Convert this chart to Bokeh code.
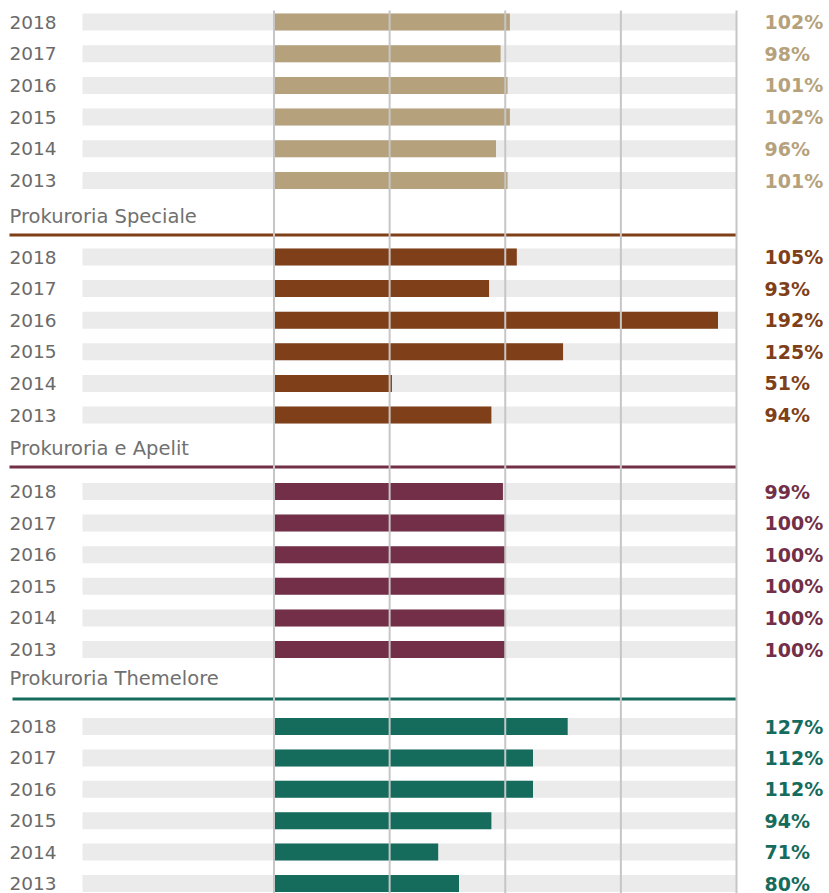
from bokeh.plotting import figure
from bokeh.models import Range1d, ColumnDataSource
from bokeh.core.properties import value
from bokeh.embed import file_html
from bokeh.resources import INLINE

# ---- data ----
years = ["2018", "2017", "2016", "2015", "2014", "2013"]
group_names = ["", "Prokuroria Speciale", "Prokuroria e Apelit", "Prokuroria Themelore"]
values_top = [102, 98, 101, 102, 96, 101]
values_speciale = [105, 93, 192, 125, 51, 94]
values_apelit = [99, 100, 100, 100, 100, 100]
values_themelore = [127, 112, 112, 94, 71, 80]
grid_ticks = [0, 50, 100, 150, 200]

group_values = [values_top, values_speciale, values_apelit, values_themelore]
group_colors = ["#B5A17C", "#7F3F18", "#722F47", "#156B5C"]

# ---- layout (pixel units on y, percent on x) ----
px_per_pct = 2.3125
zero_px = 273.5
def px2pct(px):
    return (px - zero_px) / px_per_pct

first_row_y = [21.5, 256.5, 491, 726]
row_steps = [31.7, 31.6, 31.6, 31.4]
header_label_y = [None, 216, 448, 678]
header_line_y = [None, 234.5, 466.5, 698.5]
header_line_x0 = [None, 9, 9, 12]
bar_h = 17

W, H = 829, 893
p = figure(width=W, height=H, output_backend="svg", toolbar_location=None,
           x_range=Range1d(px2pct(0), px2pct(W)), y_range=Range1d(H, 0),
           min_border=0, outline_line_color=None)
p.xaxis.visible = False
p.yaxis.visible = False
p.xgrid.visible = False
p.ygrid.visible = False
p.background_fill_color = "white"
p.border_fill_color = "white"

bg_left = px2pct(82)
label_x = px2pct(9)
pct_x = px2pct(764)
font = value("DejaVu Sans")

for g, (vals, col) in enumerate(zip(group_values, group_colors)):
    ys = [first_row_y[g] + i * row_steps[g] for i in range(len(years))]
    src = ColumnDataSource(dict(y=ys, v=vals, yr=years,
                                lab=[f"{v}%" for v in vals]))
    p.hbar(y="y", left=bg_left, right=grid_ticks[-1], height=bar_h,
           fill_color="#EBEBEB", line_color=None, source=src)
    p.hbar(y="y", left=0, right="v", height=bar_h,
           fill_color=col, line_color=None, source=src)
    p.text(x=label_x, y="y", text="yr", source=src, text_font=font,
           text_font_size="18.5px", text_color="#6A6A6A", text_baseline="middle")
    p.text(x=pct_x, y="y", text="lab", source=src, text_font=font,
           text_font_size="19px", text_font_style="bold", text_color=col,
           text_baseline="middle")
    if header_label_y[g] is not None:
        p.text(x=[label_x], y=[header_label_y[g]], text=[group_names[g]],
               text_font=font, text_font_size="19.5px", text_color="#707070",
               text_baseline="middle")
        p.segment(x0=[px2pct(header_line_x0[g])], x1=[grid_ticks[-1]],
                  y0=[header_line_y[g]], y1=[header_line_y[g]],
                  line_color=col, line_width=3)

# vertical gridlines drawn on top
p.segment(x0=grid_ticks, x1=grid_ticks, y0=[10] * len(grid_ticks),
          y1=[H] * len(grid_ticks), line_color="#C6C6C6", line_width=2)

open("out.html", "w").write(file_html(p, INLINE))
